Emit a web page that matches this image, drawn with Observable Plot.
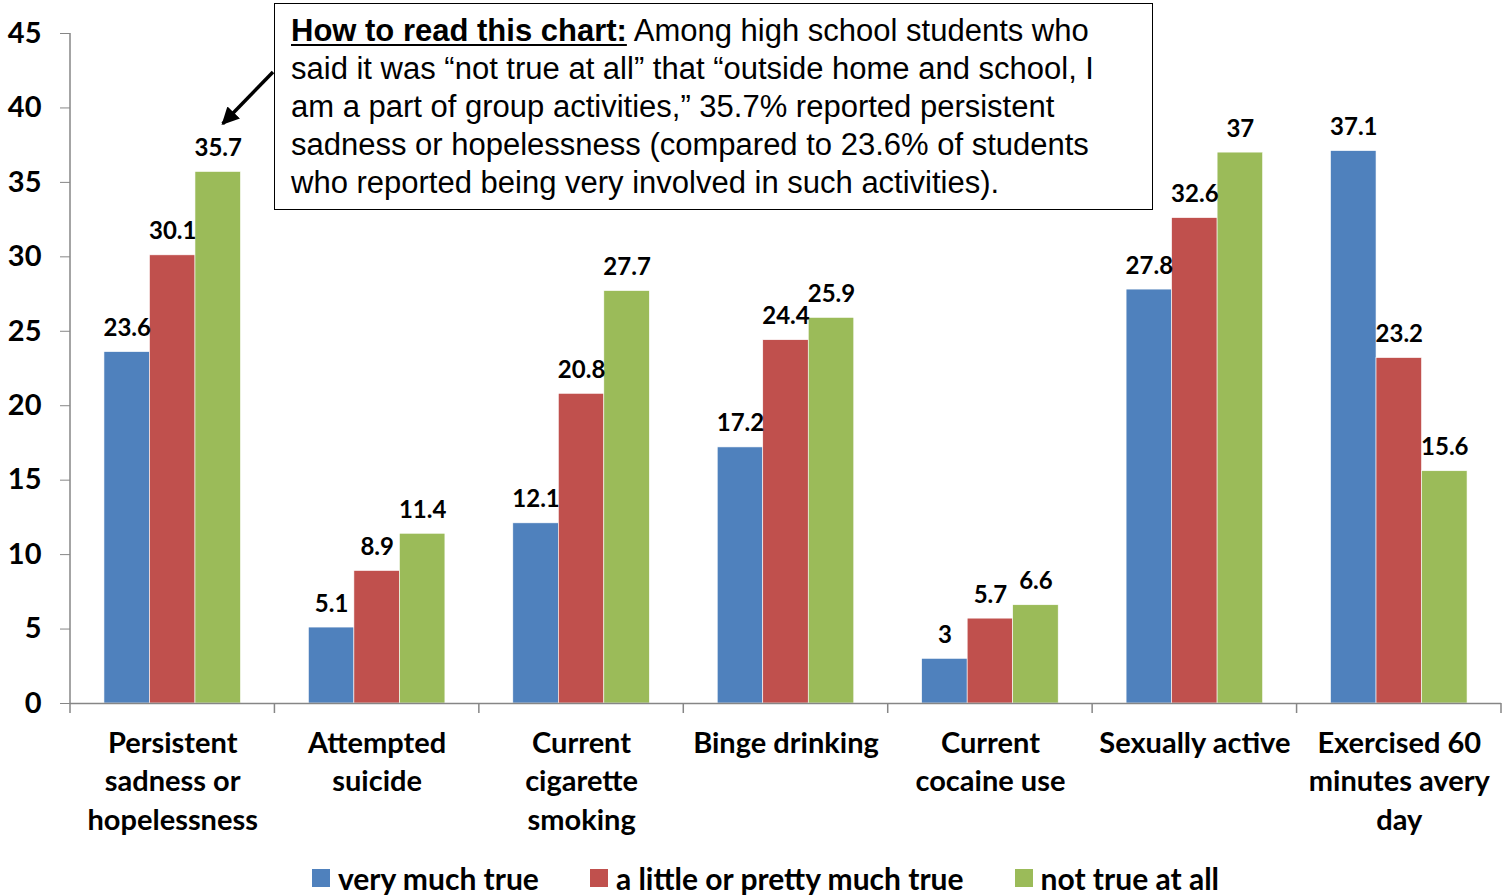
<!DOCTYPE html>
<html>
<head>
<meta charset="utf-8">
<script src="https://cdn.jsdelivr.net/npm/d3@7"></script>
<script src="https://cdn.jsdelivr.net/npm/@observablehq/plot@0.6"></script>
<style>
  html, body { margin: 0; padding: 0; background: #fff; }
  #wrap { position: relative; width: 1511px; height: 896px; font-family: Lato, "Open Sans", sans-serif; }
  #note {
    position: absolute; left: 274px; top: 3px; width: 879px; height: 207px; box-sizing: border-box;
    border: 1.5px solid #000; background: #fff; padding: 8px 0 0 16px;
    font-family: "Liberation Sans", Arial, sans-serif; font-size: 31px; line-height: 38px; color: #000; white-space: nowrap;
  }
  #note b { text-decoration: underline; text-decoration-thickness: 2px; text-underline-offset: 3px; }
  #legend { display: flex; justify-content: center; gap: 51px; margin-top: 12px; padding-left: 20px;
    font-family: Lato, sans-serif; font-weight: 700; font-size: 30px; line-height: 32px; }
  #legend .item { display: flex; align-items: center; gap: 8px; }
  #legend .sw { width: 18px; height: 18px; display: inline-block; }
  #arrow { position: absolute; left: 0; top: 0; pointer-events: none; }
</style>
</head>
<body>
<div id="wrap">
  <div id="chart"></div>
  <div id="legend"></div>
  <div id="note"><b>How to read this chart:</b> Among high school students who<br>said it was “not true at all” that “outside home and school, I<br>am a part of group activities,” 35.7% reported persistent<br>sadness or hopelessness (compared to 23.6% of students<br>who reported being very involved in such activities).</div>
</div>
<script>
const categories = [
  "Persistent\nsadness or\nhopelessness",
  "Attempted\nsuicide",
  "Current\ncigarette\nsmoking",
  "Binge drinking",
  "Current\ncocaine use",
  "Sexually active",
  "Exercised 60\nminutes avery\nday"
];
const series = ["very much true", "a little or pretty much true", "not true at all"];
const colors = ["#4F81BD", "#C0504D", "#9BBB59"];
const veryMuchTrue   = [23.6, 5.1, 12.1, 17.2, 3.0, 27.8, 37.1];
const aLittleOrPretty = [30.1, 8.9, 20.8, 24.4, 5.7, 32.6, 23.2];
const notTrueAtAll   = [35.7, 11.4, 27.7, 25.9, 6.6, 37.0, 15.6];
const yTicks = [0, 5, 10, 15, 20, 25, 30, 35, 40, 45];

const valuesBySeries = [veryMuchTrue, aLittleOrPretty, notTrueAtAll];
const data = [];
categories.forEach((c, i) => series.forEach((s, j) => data.push({category: c, series: s, value: valuesBySeries[j][i]})));

const W = 1511, H = 850, mL = 70, mR = 10, mT = 33, mB = 147;

const plot = Plot.plot({
  width: W, height: H,
  marginLeft: mL, marginRight: mR, marginTop: mT, marginBottom: mB,
  style: {fontFamily: "Lato, sans-serif", background: "transparent", overflow: "visible"},
  fx: {domain: categories, padding: 0, round: false, axis: null},
  x: {domain: series, paddingInner: 0, paddingOuter: 0.746, round: false, axis: null},
  y: {domain: [0, 45], axis: null},
  color: {domain: series, range: colors},
  marks: [
    Plot.axisY({ticks: yTicks, label: null, tickSize: 10, tickPadding: 19, tickFormat: d => d, fontSize: 29, fontWeight: 700, stroke: "#868686", fill: "#000", facetAnchor: "left"}),
    Plot.barY(data, {fx: "category", x: "series", y: "value", fill: "series", stroke: "#fff", strokeWidth: 0.6}),
    Plot.text(data, {fx: "category", x: "series", y: "value", text: d => String(d.value), lineAnchor: "bottom", dy: -16, fontSize: 24, fontWeight: 700, fill: "#000"}),
    Plot.ruleY([0], {stroke: "#868686", strokeWidth: 1.5}),
    Plot.text(categories, {fx: d => d, text: d => d, frameAnchor: "bottom", lineAnchor: "top", dy: 22, fontSize: 29, fontWeight: 700, lineHeight: 1.33, fill: "#000"})
  ]
});
document.getElementById("chart").appendChild(plot);

// axis line and category boundary ticks from the plot's own scales
const svg = d3.select(plot);
const fx = plot.scale("fx");
const y = plot.scale("y");
const y0 = y.apply(0), yTop = y.apply(45);
const g = svg.append("g").attr("stroke", "#868686").attr("stroke-width", 1.5);
g.append("line").attr("x1", fx.range[0]).attr("x2", fx.range[0]).attr("y1", yTop).attr("y2", y0);
const bounds = categories.map(c => fx.apply(c)).concat([fx.range[1]]);
bounds.forEach(b => g.append("line").attr("x1", b).attr("x2", b).attr("y1", y0).attr("y2", y0 + 10));

// legend
const legend = d3.select("#legend");
series.forEach((s, i) => {
  const it = legend.append("div").attr("class", "item");
  it.append("span").attr("class", "sw").style("background", colors[i]);
  it.append("span").text(s);
});

// annotation arrow: from the note box to the label of the first "not true at all" bar
const greenRects = Array.from(plot.querySelectorAll("rect")).filter(r => (r.getAttribute("fill") || "").toLowerCase() === colors[2].toLowerCase());
const wrapBox = document.getElementById("wrap").getBoundingClientRect();
let tipX = 222;
if (greenRects.length) {
  const bb = greenRects.map(r => r.getBoundingClientRect()).sort((a, b) => a.left - b.left)[0];
  tipX = bb.left - wrapBox.left + bb.width / 2 + 5;
}
const tipY = y.apply(notTrueAtAll[0] + 3.2);
const note = document.getElementById("note").getBoundingClientRect();
const startX = note.left - wrapBox.left - 1, startY = 72;
const ov = d3.select("#wrap").append("svg").attr("id", "arrow").attr("width", W).attr("height", 896);
ov.append("defs").append("marker").attr("id", "ah").attr("viewBox", "0 0 10 10").attr("refX", 9).attr("refY", 5)
  .attr("markerWidth", 5).attr("markerHeight", 5).attr("orient", "auto")
  .append("path").attr("d", "M0,0 L10,5 L0,10 z").attr("fill", "#000");
ov.append("line").attr("x1", startX).attr("y1", startY).attr("x2", tipX).attr("y2", tipY)
  .attr("stroke", "#000").attr("stroke-width", 3.5).attr("marker-end", "url(#ah)");
</script>
</body>
</html>
